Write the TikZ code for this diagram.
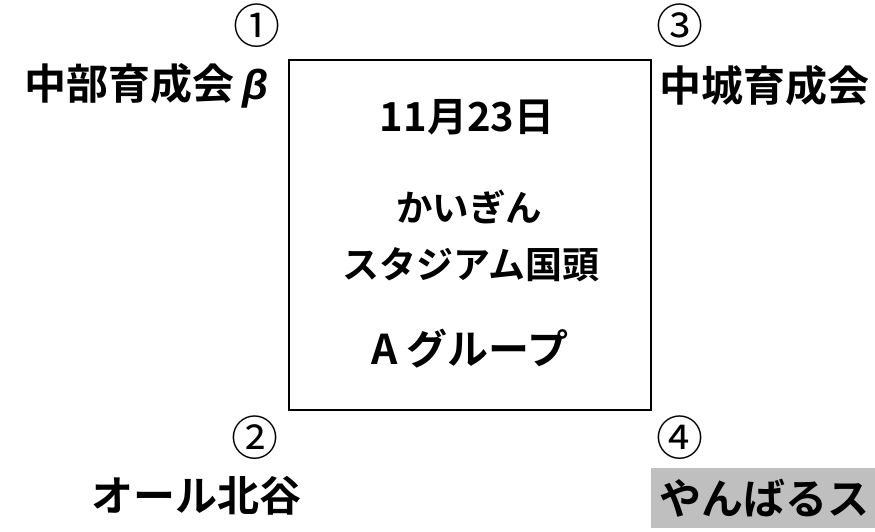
\documentclass[tikz,border=0pt]{standalone}
\usepackage{fontspec}
\setmainfont{Noto Sans CJK JP}[BoldFont={* Bold}]
\newfontfamily\cjkb{Noto Sans CJK JP Bold}
\newfontfamily\cjkr{Noto Sans CJK JP}
\newfontfamily\betafont{Liberation Sans}[BoldItalicFont={Liberation Sans Bold Italic}]
\definecolor{graybg}{HTML}{BFBFBF}
\tikzset{
  team/.style={inner sep=0pt, font=\cjkb\fontsize{42}{48}\selectfont},
  inbox/.style={inner sep=0pt, font=\cjkb\fontsize{40}{46}\selectfont},
  num/.style={inner sep=0pt, font=\cjkr\fontsize{47}{52}\selectfont},
  frame/.style={draw=black, line width=2pt}
}
\begin{document}
\begin{tikzpicture}[x=1pt,y=-1pt]
\useasboundingbox (0,0) rectangle (875,532);
\draw[frame] (289,60) rectangle (651,410);
\node[inbox] (date) at (467,117) {11月23日};
\node[inbox, font=\cjkb\fontsize{36.5}{42}\selectfont] (venue1) at (469,207) {かいぎん};
\node[inbox, font=\cjkb\fontsize{37}{42}\selectfont] (venue2) at (471,265) {スタジアム国頭};
\node[inbox, font=\cjkb\fontsize{41}{46}\selectfont] (group) at (470,349) {A\hspace{0.2em}グループ};
\node[num] (n1) at (257,26) {①};
\node[num] (n2) at (255,438) {②};
\node[num] (n3) at (680,26) {③};
\node[num] (n4) at (680,438) {④};
\node[team, anchor=west] (t1) at (24,86) {中部育成会\hspace{0.2em}{\betafont\bfseries\itshape β}};
\node[team, anchor=west] (t3) at (659,86) {中城育成会};
\node[team, anchor=west] (t2) at (91,496) {オール北谷};
\fill[graybg] (651,468) rectangle (875,528);
\node[team, anchor=west] (t4) at (659,498) {やんばるス};
\end{tikzpicture}
\end{document}
